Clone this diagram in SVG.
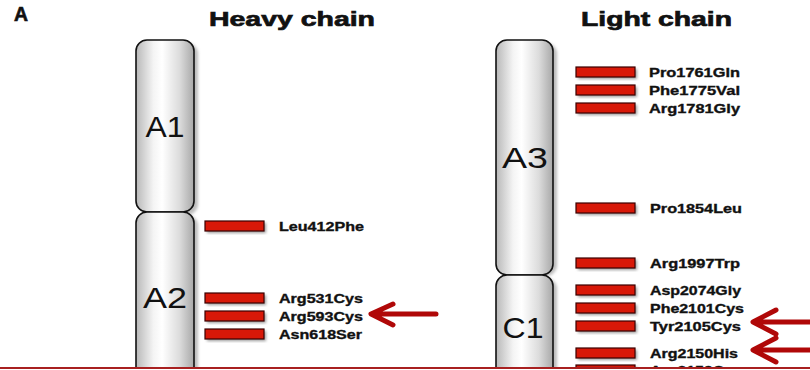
<svg xmlns="http://www.w3.org/2000/svg" width="810" height="370" viewBox="0 0 810 370">
<defs>
<linearGradient id="cap" x1="0" y1="0" x2="1" y2="0">
<stop offset="0" stop-color="#b8b8b8"/>
<stop offset="0.3" stop-color="#f4f4f4"/>
<stop offset="0.45" stop-color="#ffffff"/>
<stop offset="0.75" stop-color="#dcdcdc"/>
<stop offset="1" stop-color="#a8a8a8"/>
</linearGradient>
<filter id="blur" x="-20%" y="-20%" width="140%" height="140%"><feGaussianBlur stdDeviation="1.5"/></filter>
<clipPath id="page"><rect x="0" y="0" width="810" height="367"/></clipPath>
</defs>
<style>
.cap{fill:url(#cap);stroke:#111;stroke-width:1.6}
.capsh{fill:#bdbdbd;filter:url(#blur)}
.dom{font-family:"Liberation Sans",Arial,sans-serif;font-size:30px;fill:#111}
.title{font-family:"Liberation Sans",Arial,sans-serif;font-weight:bold;font-size:21px;fill:#111;stroke:#111;stroke-width:0.7}
.bar{fill:#d81808;stroke:#3a0000;stroke-width:1.2}
.barsh{fill:#9a9a9a;filter:url(#blur)}
.lab{font-family:"Liberation Sans",Arial,sans-serif;font-weight:bold;font-size:12.5px;fill:#111;stroke:#111;stroke-width:0.35}
.arr{fill:none;stroke:#b00808;stroke-width:5;stroke-linecap:round;stroke-linejoin:round}
</style>
<rect width="810" height="370" fill="#fff"/>
<g clip-path="url(#page)">
<text class="title" x="14" y="21" font-size="13" textLength="14" lengthAdjust="spacingAndGlyphs">A</text>
<text class="title" x="209" y="26" textLength="166" lengthAdjust="spacingAndGlyphs">Heavy chain</text>
<text class="title" x="581" y="26" textLength="151" lengthAdjust="spacingAndGlyphs">Light chain</text>

<g id="A1">
<rect class="capsh" x="140" y="43" width="58" height="172" rx="11"/>
<rect class="cap" x="136" y="40" width="58" height="172" rx="11"/>
<text class="dom" x="165" y="137" text-anchor="middle" textLength="39" lengthAdjust="spacingAndGlyphs">A1</text>
</g>
<g id="A2">
<rect class="capsh" x="140" y="215" width="58" height="200" rx="11"/>
<rect class="cap" x="136" y="212" width="58" height="200" rx="11"/>
<text class="dom" x="165" y="308" text-anchor="middle" textLength="44" lengthAdjust="spacingAndGlyphs">A2</text>
</g>
<g id="A3">
<rect class="capsh" x="500" y="43" width="57" height="233" rx="11"/>
<rect class="cap" x="496" y="40" width="57" height="235" rx="11"/>
<text class="dom" x="525" y="168" text-anchor="middle" textLength="46" lengthAdjust="spacingAndGlyphs">A3</text>
</g>
<g id="C1">
<rect class="capsh" x="500" y="278" width="57" height="150" rx="11"/>
<rect class="cap" x="496" y="275" width="57" height="150" rx="11"/>
<text class="dom" x="523" y="338" text-anchor="middle" textLength="41" lengthAdjust="spacingAndGlyphs">C1</text>
</g>

<g id="Leu412Phe"><rect class="barsh" x="207" y="223" width="59" height="10"/><rect class="bar" x="205" y="221" width="59" height="10"/><text class="lab" x="279" y="231" textLength="85" lengthAdjust="spacingAndGlyphs">Leu412Phe</text></g>
<g id="Arg531Cys"><rect class="barsh" x="207" y="295" width="59" height="10"/><rect class="bar" x="205" y="293" width="59" height="10"/><text class="lab" x="279" y="303" textLength="84" lengthAdjust="spacingAndGlyphs">Arg531Cys</text></g>
<g id="Arg593Cys"><rect class="barsh" x="207" y="313" width="59" height="10"/><rect class="bar" x="205" y="311" width="59" height="10"/><text class="lab" x="279" y="321" textLength="84" lengthAdjust="spacingAndGlyphs">Arg593Cys</text></g>
<g id="Asn618Ser"><rect class="barsh" x="207" y="331" width="59" height="10"/><rect class="bar" x="205" y="329" width="59" height="10"/><text class="lab" x="279" y="339" textLength="83" lengthAdjust="spacingAndGlyphs">Asn618Ser</text></g>

<g id="Pro1761Gln"><rect class="barsh" x="578" y="69" width="59" height="10"/><rect class="bar" x="576" y="67" width="59" height="10"/><text class="lab" x="649" y="77" textLength="91" lengthAdjust="spacingAndGlyphs">Pro1761Gln</text></g>
<g id="Phe1775Val"><rect class="barsh" x="578" y="87" width="59" height="10"/><rect class="bar" x="576" y="85" width="59" height="10"/><text class="lab" x="649" y="95" textLength="91" lengthAdjust="spacingAndGlyphs">Phe1775Val</text></g>
<g id="Arg1781Gly"><rect class="barsh" x="578" y="105" width="59" height="10"/><rect class="bar" x="576" y="103" width="59" height="10"/><text class="lab" x="649" y="113" textLength="91" lengthAdjust="spacingAndGlyphs">Arg1781Gly</text></g>
<g id="Pro1854Leu"><rect class="barsh" x="578" y="205" width="59" height="10"/><rect class="bar" x="576" y="203" width="59" height="10"/><text class="lab" x="650" y="213" textLength="92" lengthAdjust="spacingAndGlyphs">Pro1854Leu</text></g>
<g id="Arg1997Trp"><rect class="barsh" x="578" y="260" width="59" height="10"/><rect class="bar" x="576" y="258" width="59" height="10"/><text class="lab" x="650" y="268" textLength="90" lengthAdjust="spacingAndGlyphs">Arg1997Trp</text></g>
<g id="Asp2074Gly"><rect class="barsh" x="578" y="287" width="59" height="10"/><rect class="bar" x="576" y="285" width="59" height="10"/><text class="lab" x="650" y="295" textLength="91" lengthAdjust="spacingAndGlyphs">Asp2074Gly</text></g>
<g id="Phe2101Cys"><rect class="barsh" x="578" y="305" width="59" height="10"/><rect class="bar" x="576" y="303" width="59" height="10"/><text class="lab" x="650" y="313" textLength="94" lengthAdjust="spacingAndGlyphs">Phe2101Cys</text></g>
<g id="Tyr2105Cys"><rect class="barsh" x="578" y="323" width="59" height="10"/><rect class="bar" x="576" y="321" width="59" height="10"/><text class="lab" x="650" y="331" textLength="91" lengthAdjust="spacingAndGlyphs">Tyr2105Cys</text></g>
<g id="Arg2150His"><rect class="barsh" x="578" y="350" width="59" height="10"/><rect class="bar" x="576" y="348" width="59" height="10"/><text class="lab" x="650" y="358" textLength="88" lengthAdjust="spacingAndGlyphs">Arg2150His</text></g>
<g id="Arg2159Cys"><rect class="barsh" x="578" y="367" width="59" height="10"/><rect class="bar" x="576" y="365" width="59" height="10"/><text class="lab" x="650" y="375" textLength="92" lengthAdjust="spacingAndGlyphs">Arg2159Cys</text></g>

<g id="connectors">
<path class="arr" d="M436 314 L372 314 M393 304 L371 314 L393 325"/>
<path class="arr" d="M812 322 L754 322 M776 310 L753 322 L776 334"/>
<path class="arr" d="M812 350 L754 350 M776 338 L753 350 L776 362"/>
</g>
</g>
<line x1="0" y1="368" x2="810" y2="368" stroke="#a82020" stroke-width="2"/>
</svg>
